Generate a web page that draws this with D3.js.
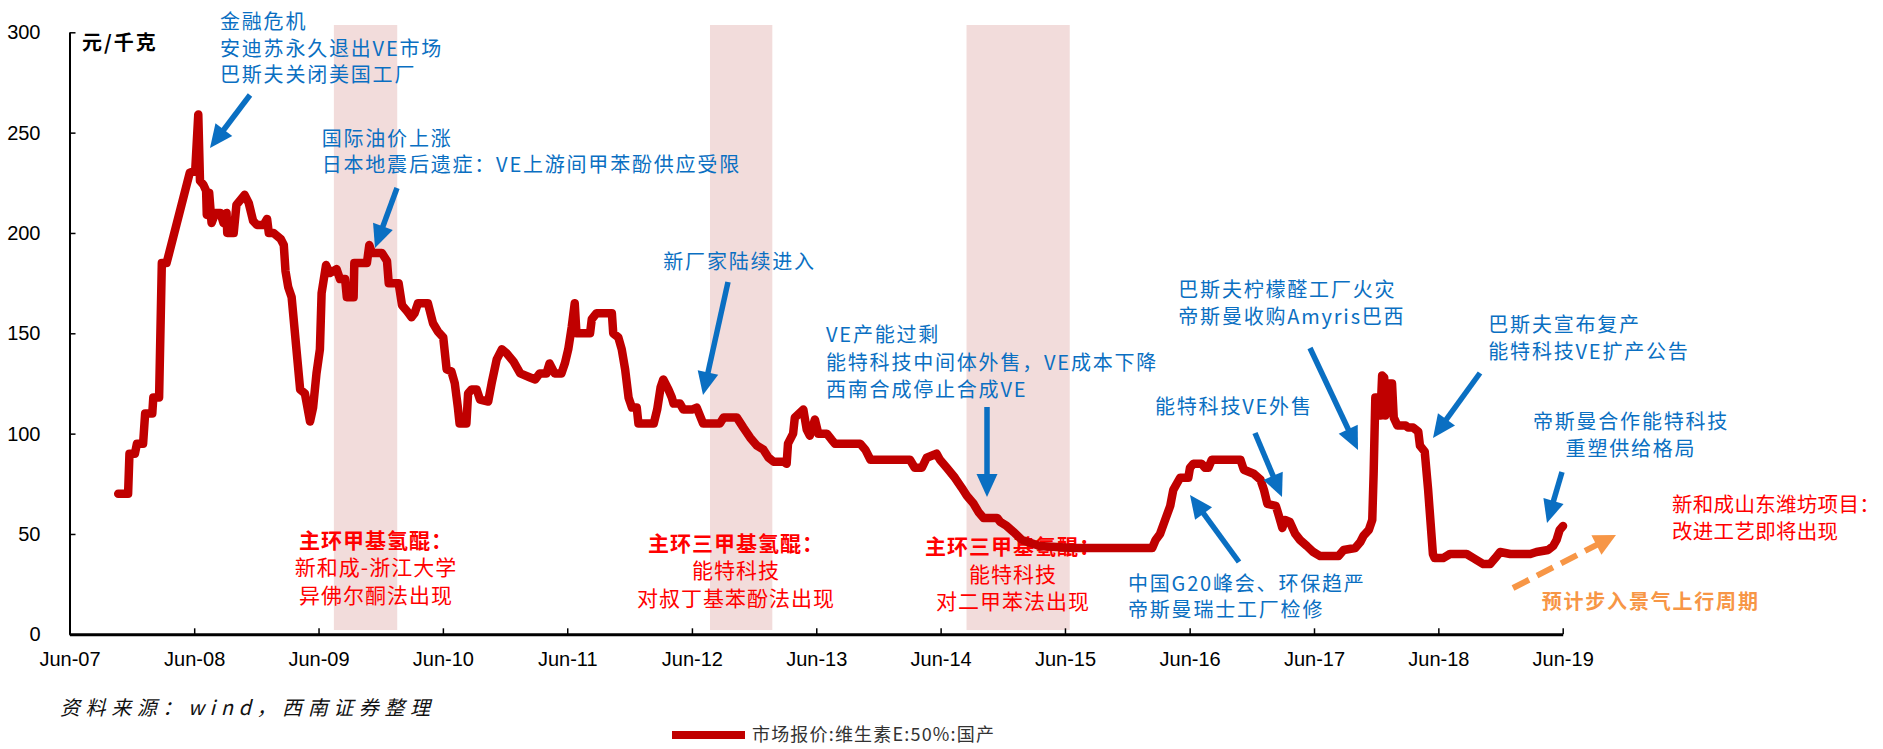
<!DOCTYPE html>
<html>
<head>
<meta charset="utf-8">
<script src="https://cdnjs.cloudflare.com/ajax/libs/d3/7.8.5/d3.min.js"></script>
<style>
body { margin: 0; background: #fff; }
svg text { font-family: "Liberation Sans", Arial, sans-serif; }
svg text.cjk { font-family: "Noto Sans CJK SC", "Noto Sans", sans-serif; }
</style>
</head>
<body>
<svg id="chart"></svg>
<script>
// price series (元/千克)
const priceDates = [
  "2007-10-22","2007-11-20","2007-11-24","2007-12-10","2007-12-16","2008-01-03","2008-01-09","2008-01-30",
  "2008-02-02","2008-02-19","2008-02-27","2008-03-12","2008-05-19","2008-06-04","2008-06-13","2008-06-18",
  "2008-06-28","2008-07-06","2008-07-08","2008-07-15","2008-07-22","2008-08-02","2008-08-17","2008-08-26",
  "2008-09-04","2008-09-06","2008-09-25","2008-10-03","2008-10-27","2008-11-08","2008-11-21","2008-12-02",
  "2008-12-22","2009-01-01","2009-01-06","2009-01-20","2009-02-10","2009-02-19","2009-02-24","2009-03-04",
  "2009-03-14","2009-04-08","2009-04-22","2009-05-07","2009-05-16","2009-05-26","2009-06-05","2009-06-10",
  "2009-06-23","2009-07-04","2009-07-24","2009-08-03","2009-08-18","2009-08-23","2009-09-12","2009-09-14",
  "2009-10-21","2009-10-28","2009-11-05","2009-12-04","2009-12-19","2009-12-24","2010-01-22","2010-02-01",
  "2010-02-16","2010-03-01","2010-03-10","2010-03-20","2010-04-18","2010-05-03","2010-05-17","2010-06-02",
  "2010-06-12","2010-06-26","2010-07-06","2010-07-15","2010-07-20","2010-08-09","2010-08-14","2010-08-24",
  "2010-09-08","2010-09-18","2010-10-12","2010-10-22","2010-11-06","2010-11-21","2010-12-05","2010-12-25",
  "2011-01-14","2011-02-12","2011-02-27","2011-03-12","2011-04-01","2011-04-10","2011-04-25","2011-05-15",
  "2011-05-25","2011-06-04","2011-06-14","2011-06-23","2011-06-28","2011-08-07","2011-08-12","2011-08-26",
  "2011-10-10","2011-10-14","2011-10-29","2011-11-08","2011-11-18","2011-11-28","2011-12-08","2011-12-22",
  "2011-12-27","2012-02-10","2012-02-20","2012-03-01","2012-03-09","2012-03-24","2012-04-03","2012-04-08",
  "2012-04-27","2012-05-07","2012-06-01","2012-06-15","2012-07-04","2012-08-22","2012-09-02","2012-10-11",
  "2012-10-30","2012-11-19","2012-12-09","2012-12-28","2013-01-12","2013-01-27","2013-02-26","2013-03-06",
  "2013-03-10","2013-03-25","2013-03-30","2013-04-24","2013-05-04","2013-05-13","2013-05-28","2013-06-07",
  "2013-07-02","2013-07-16","2013-07-26","2013-10-08","2013-10-23","2013-11-07","2014-03-03","2014-03-17",
  "2014-04-07","2014-04-21","2014-05-20","2014-05-30","2014-06-19","2014-07-13","2014-08-02","2014-08-17",
  "2014-09-06","2014-09-20","2014-10-05","2014-11-14","2014-11-23","2014-12-12","2015-01-01","2015-01-26",
  "2015-03-19","2015-06-25","2016-02-12","2016-02-22","2016-03-06","2016-03-21","2016-04-05","2016-04-14",
  "2016-05-04","2016-05-28","2016-06-02","2016-06-12","2016-07-06","2016-07-16","2016-07-26","2016-08-05",
  "2016-10-28","2016-11-07","2016-12-06","2016-12-26","2017-01-05","2017-01-15","2017-02-09","2017-02-18",
  "2017-02-28","2017-03-08","2017-03-22","2017-04-07","2017-04-21","2017-05-11","2017-05-30","2017-06-19",
  "2017-08-12","2017-08-27","2017-09-30","2017-10-15","2017-10-24","2017-11-09","2017-11-19","2017-11-23",
  "2017-11-28","2017-12-08","2017-12-13","2017-12-18","2017-12-24","2017-12-27","2018-01-02","2018-01-16",
  "2018-01-21","2018-02-01","2018-02-25","2018-03-04","2018-03-19","2018-04-03","2018-04-08","2018-04-22",
  "2018-05-02","2018-05-16","2018-05-21","2018-06-15","2018-07-05","2018-07-24","2018-08-23","2018-09-12",
  "2018-10-11","2018-10-31","2018-11-15","2018-11-29","2018-12-29","2019-01-18","2019-02-26","2019-03-16",
  "2019-04-19","2019-05-04","2019-05-14","2019-05-23","2019-06-02"
];
const priceValues = [
  70,70,90,90,95,95,110,110,
  118,118,185,185,230,231,259,226,
  224,221,209,220,205,210,210,205,
  210,200,200,214,219,215,206,204,
  204,207,200,200,197,194,181,173,
  168,122,120,106,113,130,142,170,
  184,180,182,177,177,168,168,185,
  185,194,190,190,186,175,175,164,
  161,158,160,165,165,155,151,148,
  132,131,125,113,105,105,120,122,
  122,117,116,125,137,142,140,136,
  130,128,127,130,130,135,130,130,
  135,142,153,165,150,150,157,160,
  160,150,148,142,132,118,113,113,
  105,105,112,123,127,122,118,115,
  115,112,112,113,105,105,108,108,
  103,98,94,92,88,86,86,85,
  95,100,108,112,102,99,107,100,
  100,97,95,95,92,87,87,83,
  83,88,90,87,83,78,73,69,
  65,61,58,58,56,54,51,47,
  44,43,43,47,50,57,64,72,
  78,78,83,85,85,83,83,87,
  87,82,80,77,72,65,64,59,
  53,57,56,50,47,44,41,39,
  39,42,43,46,49,52,57,80,
  118,118,109,129,128,109,125,125,
  108,104,104,103,103,101,94,91,
  72,40,38,38,40,40,40,38,
  35,35,38,41,40,40,40,41,
  42,44,47,52,54
];

const yTicks = [0, 50, 100, 150, 200, 250, 300];
const tickDates = ["2007-06-01","2008-06-01","2009-06-01","2010-06-01","2011-06-01","2012-06-01","2013-06-01",
                   "2014-06-01","2015-06-01","2016-06-01","2017-06-01","2018-06-01","2019-06-01"];
const tickLabels = ["Jun-07","Jun-08","Jun-09","Jun-10","Jun-11","Jun-12","Jun-13",
                    "Jun-14","Jun-15","Jun-16","Jun-17","Jun-18","Jun-19"];

// shaded periods
const bandStarts = ["2009-07-16", "2012-07-24", "2014-08-16"];
const bandEnds   = ["2010-01-18", "2013-01-23", "2015-06-15"];

const blueNotes = [
  ["金融危机", "安迪苏永久退出VE市场", "巴斯夫关闭美国工厂"],
  ["国际油价上涨", "日本地震后遗症：VE上游间甲苯酚供应受限"],
  ["新厂家陆续进入"],
  ["VE产能过剩", "能特科技中间体外售，VE成本下降", "西南合成停止合成VE"],
  ["能特科技VE外售"],
  ["巴斯夫柠檬醛工厂火灾", "帝斯曼收购Amyris巴西"],
  ["巴斯夫宣布复产", "能特科技VE扩产公告"],
  ["帝斯曼合作能特科技", "重塑供给格局"],
  ["中国G20峰会、环保趋严", "帝斯曼瑞士工厂检修"]
];
const redNotes = [
  ["主环甲基氢醌：", "新和成-浙江大学", "异佛尔酮法出现"],
  ["主环三甲基氢醌：", "能特科技", "对叔丁基苯酚法出现"],
  ["主环三甲基氢醌：", "能特科技", "对二甲苯法出现"],
  ["新和成山东潍坊项目：", "改进工艺即将出现"]
];
const outlookNote = "预计步入景气上行周期";
const unitLabel = "元/千克";
const sourceLabel = "资料来源：wind，西南证券整理";
const legendLabel = "市场报价:维生素E:50%:国产";

window.Chart = window.Chart || {};

Chart.init = function() {
    Chart.setup.initConst();
    Chart.setup.initObjects();
    Chart.core.draw();
};

Chart.setup = {
    initConst: function() {
        Chart.width = 1883;
        Chart.height = 749;
        Chart.left = 69.5;
        Chart.right = 1562.7;
        Chart.top = 32.3;
        Chart.bottom = 634.3;
        Chart.lineColor = '#C00000';
        Chart.blue = '#0a6fc2';
        Chart.red = '#ff0000';
        Chart.orange = '#f79646';
        Chart.parse = d3.timeParse('%Y-%m-%d');

        // positions of the text blocks: x, first line centre, line height, anchor
        Chart.blueLayout = [
            { x: 220, y: 21.7, lh: 26.7, anchor: 'start' },
            { x: 321.7, y: 138.3, lh: 26.7, anchor: 'start' },
            { x: 663.3, y: 261.7, lh: 26.7, anchor: 'start' },
            { x: 826, y: 335, lh: 27.5, anchor: 'start' },
            { x: 1155, y: 406.7, lh: 26.7, anchor: 'start' },
            { x: 1178.3, y: 290, lh: 26.7, anchor: 'start' },
            { x: 1488.3, y: 325, lh: 26.7, anchor: 'start' },
            { x: 1631, y: 421.7, lh: 26.7, anchor: 'middle' },
            { x: 1128, y: 583.3, lh: 26.7, anchor: 'start' }
        ];
        Chart.redLayout = [
            { x: 376, y: 540, lh: 27.5, anchor: 'middle', bold: true, size: 21, spacing: 1 },
            { x: 736, y: 543.3, lh: 27.5, anchor: 'middle', bold: true, size: 21, spacing: 1 },
            { x: 1013, y: 546.7, lh: 27.5, anchor: 'middle', bold: true, size: 21, spacing: 1 },
            { x: 1672, y: 505, lh: 26.7, anchor: 'start', bold: false, size: 20.5, spacing: 0.3 }
        ];
        Chart.blueArrows = [
            [250, 95, 210, 148],
            [397, 188, 375, 248],
            [728, 282, 703, 395],
            [987, 407, 987, 497],
            [1255, 433, 1282, 497],
            [1310, 348, 1358, 450],
            [1480, 373, 1433, 438],
            [1562, 472, 1547, 523],
            [1239, 562, 1190, 495]
        ];
        Chart.orangeArrow = [1513, 588, 1616, 535];
    },

    initObjects: function() {
        Chart.svg = d3.select('#chart')
            .attr('width', Chart.width)
            .attr('height', Chart.height);

        Chart.x = d3.scaleTime()
            .domain([Chart.parse('2007-06-01'), Chart.parse('2019-06-01')])
            .range([Chart.left, Chart.right]);
        Chart.y = d3.scaleLinear()
            .domain([0, 300])
            .range([Chart.bottom, Chart.top]);

        Chart.series = priceDates.map(function(d, i) {
            return { date: Chart.parse(d), value: priceValues[i] };
        });
    }
};

Chart.core = {
    draw: function() {
        Chart.core.drawBands();
        Chart.core.drawAxes();
        Chart.core.drawNotes();
        Chart.core.drawLine();
        Chart.core.drawArrows();
        Chart.core.drawFooter();
    },

    drawBands: function() {
        Chart.svg.append('g').selectAll('rect')
            .data(bandStarts)
            .join('rect')
            .attr('x', d => Chart.x(Chart.parse(d)))
            .attr('width', (d, i) => Chart.x(Chart.parse(bandEnds[i])) - Chart.x(Chart.parse(d)))
            .attr('y', 25)
            .attr('height', 605)
            .attr('fill', '#f2dcdb');
    },

    drawAxes: function() {
        let yAxis = d3.axisLeft(Chart.y)
            .tickValues(yTicks)
            .tickSizeInner(-6)
            .tickSizeOuter(0)
            .tickPadding(29);
        let gy = Chart.svg.append('g')
            .attr('transform', 'translate(' + Chart.left + ',0)')
            .call(yAxis);
        gy.select('.domain').attr('stroke', '#000').attr('stroke-width', 2);
        gy.selectAll('.tick line').attr('stroke', '#000').attr('stroke-width', 1.5);
        gy.selectAll('.tick text')
            .attr('font-size', 20)
            .attr('font-family', '"Liberation Sans", Arial, sans-serif')
            .attr('fill', '#000');

        let xAxis = d3.axisBottom(Chart.x)
            .tickValues(tickDates.map(Chart.parse))
            .tickFormat((d, i) => tickLabels[i])
            .tickSizeInner(-6)
            .tickSizeOuter(0);
        let gx = Chart.svg.append('g')
            .attr('transform', 'translate(0,' + Chart.bottom + ')')
            .call(xAxis);
        gx.select('.domain').attr('stroke', '#000').attr('stroke-width', 3);
        gx.selectAll('.tick line').attr('stroke', '#000').attr('stroke-width', 1.5);
        gx.selectAll('.tick text')
            .attr('y', 25)
            .attr('dy', '0.35em')
            .attr('font-size', 20)
            .attr('font-family', '"Liberation Sans", Arial, sans-serif')
            .attr('fill', '#000');

        Chart.svg.append('text')
            .attr('class', 'cjk')
            .attr('x', 82)
            .attr('y', 43)
            .attr('dy', '0.36em')
            .attr('font-size', 20)
            .attr('font-weight', 'bold')
            .attr('letter-spacing', 2)
            .attr('fill', '#000')
            .text(unitLabel);
    },

    drawNotes: function() {
        blueNotes.forEach(function(lines, i) {
            let p = Chart.blueLayout[i];
            Chart.helpers.textBlock(lines, p, {
                color: Chart.blue, size: 20, spacing: 1.8, boldFirst: false
            });
        });
        redNotes.forEach(function(lines, i) {
            let p = Chart.redLayout[i];
            Chart.helpers.textBlock(lines, p, {
                color: Chart.red, size: p.size, spacing: p.spacing, boldFirst: p.bold
            });
        });
        Chart.svg.append('text')
            .attr('class', 'cjk')
            .attr('x', 1541.7)
            .attr('y', 601.7)
            .attr('dy', '0.36em')
            .attr('font-size', 20)
            .attr('font-weight', 'bold')
            .attr('letter-spacing', 1.8)
            .attr('fill', Chart.orange)
            .text(outlookNote);
    },

    drawLine: function() {
        let line = d3.line()
            .x(d => Chart.x(d.date))
            .y(d => Chart.y(d.value));
        Chart.svg.append('path')
            .datum(Chart.series)
            .attr('d', line)
            .attr('fill', 'none')
            .attr('stroke', Chart.lineColor)
            .attr('stroke-width', 8.5)
            .attr('stroke-linejoin', 'round')
            .attr('stroke-linecap', 'round');
    },

    drawArrows: function() {
        let g = Chart.svg.append('g');
        Chart.blueArrows.forEach(function(a) {
            Chart.helpers.arrow(g, a, Chart.blue, 5.5, 23, 21, null);
        });
        Chart.helpers.arrow(g, Chart.orangeArrow, Chart.orange, 6, 22, 22, '18,9');
    },

    drawFooter: function() {
        Chart.svg.append('text')
            .attr('class', 'cjk')
            .attr('x', 60)
            .attr('y', 708)
            .attr('dy', '0.36em')
            .attr('font-size', 20)
            .attr('font-style', 'italic')
            .attr('fill', '#111')
            .attr('textLength', 370)
            .attr('lengthAdjust', 'spacing')
            .text(sourceLabel);

        Chart.svg.append('line')
            .attr('x1', 672).attr('x2', 745)
            .attr('y1', 735).attr('y2', 735)
            .attr('stroke', Chart.lineColor)
            .attr('stroke-width', 8);
        Chart.svg.append('text')
            .attr('class', 'cjk')
            .attr('x', 752)
            .attr('y', 735)
            .attr('dy', '0.36em')
            .attr('font-size', 18)
            .attr('fill', '#333')
            .attr('textLength', 242)
            .attr('lengthAdjust', 'spacing')
            .text(legendLabel);
    }
};

Chart.helpers = {
    textBlock: function(lines, p, opt) {
        let t = Chart.svg.append('text')
            .attr('class', 'cjk')
            .attr('text-anchor', p.anchor)
            .attr('font-size', opt.size)
            .attr('letter-spacing', opt.spacing)
            .attr('fill', opt.color);
        lines.forEach(function(s, j) {
            t.append('tspan')
                .attr('x', p.x)
                .attr('y', p.y + j * p.lh)
                .attr('dy', '0.36em')
                .attr('font-weight', (opt.boldFirst && j === 0) ? 'bold' : 'normal')
                .text(s);
        });
    },

    arrow: function(g, a, color, width, headLen, headW, dash) {
        let x1 = a[0], y1 = a[1], x2 = a[2], y2 = a[3];
        let len = Math.hypot(x2 - x1, y2 - y1);
        let ux = (x2 - x1) / len, uy = (y2 - y1) / len;
        let bx = x2 - ux * headLen, by = y2 - uy * headLen;
        g.append('line')
            .attr('x1', x1).attr('y1', y1)
            .attr('x2', bx + ux * 2).attr('y2', by + uy * 2)
            .attr('stroke', color)
            .attr('stroke-width', width)
            .attr('stroke-dasharray', dash);
        let pts = [
            [x2, y2],
            [bx - uy * headW / 2, by + ux * headW / 2],
            [bx + uy * headW / 2, by - ux * headW / 2]
        ];
        g.append('polygon')
            .attr('points', pts.map(p => p.join(',')).join(' '))
            .attr('fill', color);
    }
};

Chart.init();
</script>
</body>
</html>
